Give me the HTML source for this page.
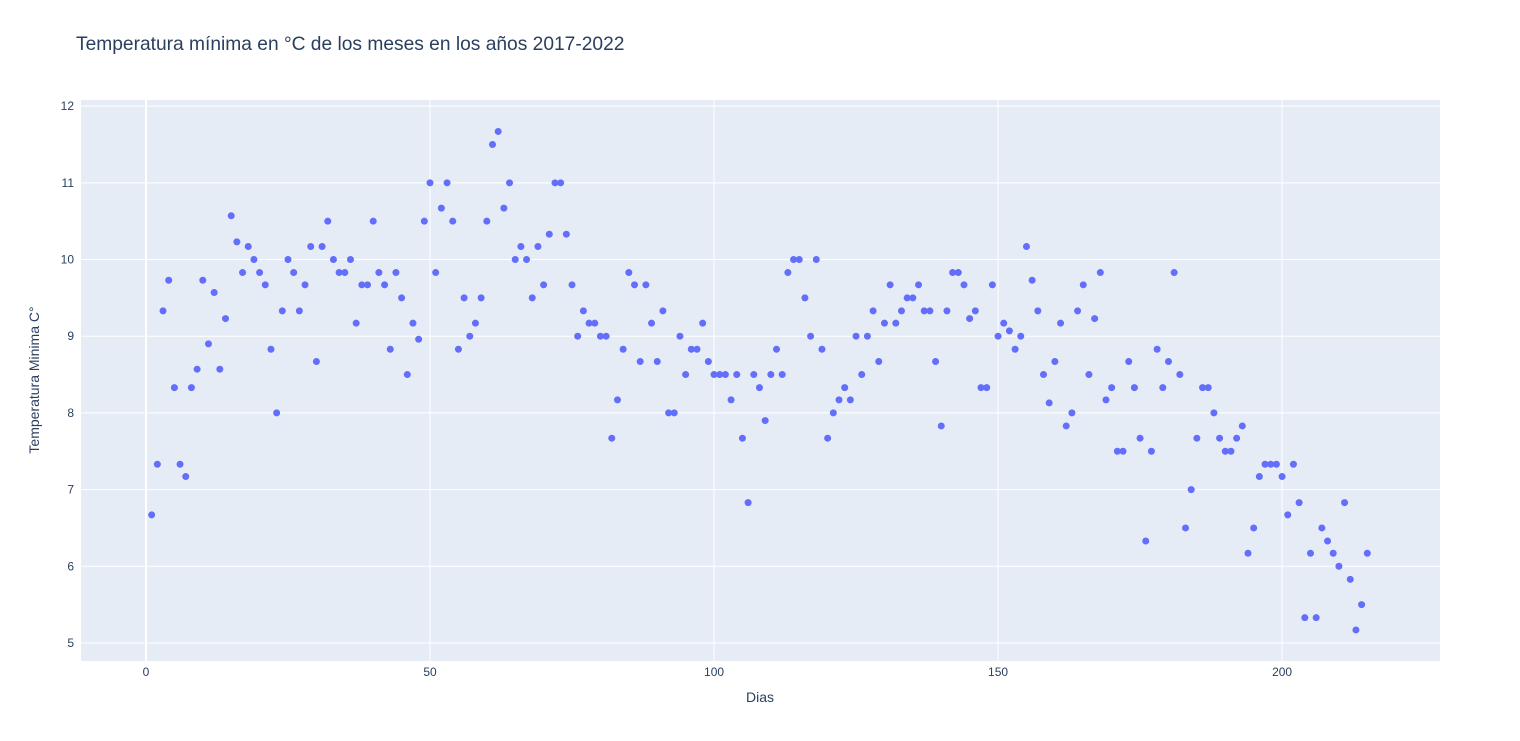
<!DOCTYPE html>
<html><head><meta charset="utf-8"><style>
html,body{margin:0;padding:0;background:#fff;}
svg{display:block;font-family:"Liberation Sans",Arial,sans-serif;}
</style></head><body>
<svg id="chart" width="1520" height="741">
<text x="76" y="50" font-size="19.2" fill="#2a3f5f">Temperatura mínima en °C de los meses en los años 2017-2022</text>
<rect x="81" y="100" width="1359" height="561" fill="#e5ecf6"/>
<g id="grid"></g>
<g id="points"></g>
<text x="760" y="702" font-size="14" fill="#2a3f5f" text-anchor="middle">Dias</text>
<text transform="translate(39,380) rotate(-90)" font-size="14" fill="#2a3f5f" text-anchor="middle">Temperatura Minima C°</text>
</svg>
<script>
const yValues = [6.67,7.33,9.33,9.73,8.33,7.33,7.17,8.33,8.57,9.73,8.9,9.57,8.57,9.23,10.57,10.23,9.83,10.17,10,9.83,
9.67,8.83,8,9.33,10,9.83,9.33,9.67,10.17,8.67,10.17,10.5,10,9.83,9.83,10,9.17,9.67,9.67,10.5,
9.83,9.67,8.83,9.83,9.5,8.5,9.17,8.96,10.5,11,9.83,10.67,11,10.5,8.83,9.5,9,9.17,9.5,10.5,
11.5,11.67,10.67,11,10,10.17,10,9.5,10.17,9.67,10.33,11,11,10.33,9.67,9,9.33,9.17,9.17,9,
9,7.67,8.17,8.83,9.83,9.67,8.67,9.67,9.17,8.67,9.33,8,8,9,8.5,8.83,8.83,9.17,8.67,8.5,
8.5,8.5,8.17,8.5,7.67,6.83,8.5,8.33,7.9,8.5,8.83,8.5,9.83,10,10,9.5,9,10,8.83,7.67,
8,8.17,8.33,8.17,9,8.5,9,9.33,8.67,9.17,9.67,9.17,9.33,9.5,9.5,9.67,9.33,9.33,8.67,7.83,
9.33,9.83,9.83,9.67,9.23,9.33,8.33,8.33,9.67,9,9.17,9.07,8.83,9,10.17,9.73,9.33,8.5,8.13,8.67,
9.17,7.83,8,9.33,9.67,8.5,9.23,9.83,8.17,8.33,7.5,7.5,8.67,8.33,7.67,6.33,7.5,8.83,8.33,8.67,
9.83,8.5,6.5,7,7.67,8.33,8.33,8,7.67,7.5,7.5,7.67,7.83,6.17,6.5,7.17,7.33,7.33,7.33,7.17,
6.67,7.33,6.83,5.33,6.17,5.33,6.5,6.33,6.17,6,6.83,5.83,5.17,5.5,6.17];
const xValues = yValues.map((v,i)=>i+1);
const xTicks = [0,50,100,150,200];
const yTicks = [5,6,7,8,9,10,11,12];

const L=81,R=1440,T=100,B=661;
const xMin=-11.44,xMax=227.8,yMin=4.765,yMax=12.08;
const sx=v=>L+(v-xMin)/(xMax-xMin)*(R-L);
const sy=v=>B-(v-yMin)/(yMax-yMin)*(B-T);
const NS="http://www.w3.org/2000/svg";
const grid=document.getElementById('grid');
const svg=document.getElementById('chart');
xTicks.forEach(t=>{
  const l=document.createElementNS(NS,'line');
  l.setAttribute('x1',sx(t));l.setAttribute('x2',sx(t));l.setAttribute('y1',T);l.setAttribute('y2',B);
  l.setAttribute('stroke','#fff');l.setAttribute('stroke-width',t===0?2:1);
  
  
  grid.appendChild(l);
  const tx=document.createElementNS(NS,'text');
  tx.setAttribute('x',sx(t));tx.setAttribute('y',676);tx.setAttribute('text-anchor','middle');
  tx.setAttribute('font-size','12');tx.setAttribute('fill','#2a3f5f');tx.textContent=t;
  
  
  svg.appendChild(tx);
});
yTicks.forEach(t=>{
  const l=document.createElementNS(NS,'line');
  l.setAttribute('x1',L);l.setAttribute('x2',R);l.setAttribute('y1',sy(t));l.setAttribute('y2',sy(t));
  l.setAttribute('stroke','#fff');l.setAttribute('stroke-width',1);
  
  
  grid.appendChild(l);
  const tx=document.createElementNS(NS,'text');
  tx.setAttribute('x',74);tx.setAttribute('y',sy(t)+4);tx.setAttribute('text-anchor','end');
  tx.setAttribute('font-size','12');tx.setAttribute('fill','#2a3f5f');tx.textContent=t;
  
  
  svg.appendChild(tx);
});
const pts=document.getElementById('points');
yValues.forEach((v,i)=>{
  const c=document.createElementNS(NS,'circle');
  c.setAttribute('cx',sx(xValues[i]));c.setAttribute('cy',sy(v));c.setAttribute('r',3.5);
  c.setAttribute('fill','#636efa');
  
  
  pts.appendChild(c);
});
</script>
</body></html>
